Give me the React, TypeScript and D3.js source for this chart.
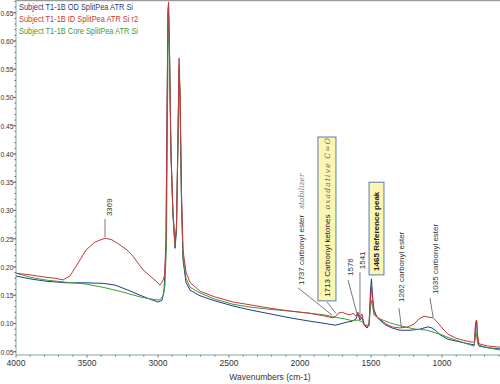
import React from 'react';
import * as d3 from 'd3';

// FTIR spectra, absorbance vs wavenumber (cm-1)
const odWavenumbers = [4000, 3901, 3796, 3648, 3514, 3387, 3303, 3211, 3127, 3056, 3000, 2972, 2958, 2944, 2937, 2930, 2926, 2919, 2909, 2895, 2880, 2870, 2859, 2852, 2845, 2835, 2824, 2803, 2775, 2704, 2599, 2472, 2352, 2212, 2071, 1930, 1824, 1754, 1719, 1676, 1634, 1606, 1592, 1578, 1564, 1549, 1528, 1514, 1504, 1497, 1490, 1479, 1458, 1430, 1395, 1352, 1296, 1226, 1155, 1099, 1070, 1042, 1014, 958, 902, 832, 772, 764, 757, 750, 740, 677, 592];
const odAbsorbance = [0.184, 0.179, 0.175, 0.172, 0.172, 0.171, 0.168, 0.159, 0.150, 0.143, 0.138, 0.141, 0.156, 0.230, 0.460, 0.646, 0.664, 0.575, 0.398, 0.292, 0.233, 0.265, 0.425, 0.549, 0.495, 0.318, 0.212, 0.173, 0.159, 0.149, 0.140, 0.131, 0.124, 0.117, 0.110, 0.104, 0.100, 0.097, 0.099, 0.102, 0.104, 0.108, 0.117, 0.106, 0.111, 0.097, 0.092, 0.097, 0.159, 0.179, 0.150, 0.124, 0.111, 0.104, 0.097, 0.092, 0.088, 0.088, 0.090, 0.094, 0.092, 0.087, 0.080, 0.072, 0.069, 0.065, 0.062, 0.097, 0.106, 0.074, 0.060, 0.057, 0.055];

const idWavenumbers = [4000, 3901, 3796, 3725, 3669, 3620, 3563, 3507, 3444, 3373, 3324, 3268, 3218, 3176, 3141, 3106, 3056, 3014, 2986, 2972, 2954, 2944, 2937, 2930, 2926, 2919, 2909, 2895, 2880, 2870, 2859, 2852, 2845, 2835, 2824, 2803, 2775, 2704, 2599, 2472, 2352, 2212, 2071, 1930, 1824, 1768, 1747, 1732, 1704, 1676, 1648, 1627, 1606, 1592, 1578, 1564, 1549, 1528, 1514, 1504, 1497, 1490, 1479, 1458, 1430, 1395, 1352, 1296, 1240, 1197, 1162, 1127, 1092, 1063, 1035, 1000, 958, 902, 846, 789, 772, 764, 757, 750, 740, 677, 592];
const idAbsorbance = [0.189, 0.186, 0.182, 0.180, 0.177, 0.184, 0.207, 0.230, 0.244, 0.251, 0.248, 0.239, 0.230, 0.219, 0.207, 0.195, 0.184, 0.175, 0.168, 0.173, 0.184, 0.248, 0.460, 0.655, 0.669, 0.584, 0.407, 0.300, 0.242, 0.273, 0.442, 0.570, 0.513, 0.336, 0.230, 0.191, 0.173, 0.157, 0.147, 0.138, 0.133, 0.127, 0.122, 0.118, 0.113, 0.110, 0.113, 0.118, 0.120, 0.117, 0.115, 0.118, 0.113, 0.120, 0.109, 0.117, 0.099, 0.094, 0.099, 0.141, 0.166, 0.141, 0.120, 0.111, 0.106, 0.099, 0.094, 0.092, 0.094, 0.099, 0.108, 0.113, 0.111, 0.110, 0.103, 0.092, 0.081, 0.074, 0.070, 0.067, 0.067, 0.102, 0.106, 0.080, 0.064, 0.060, 0.058];

const coreWavenumbers = [4000, 3901, 3796, 3648, 3514, 3387, 3268, 3127, 3021, 2986, 2965, 2951, 2940, 2933, 2927, 2919, 2909, 2895, 2880, 2870, 2859, 2852, 2845, 2835, 2824, 2803, 2775, 2704, 2599, 2472, 2352, 2212, 2071, 1930, 1824, 1754, 1683, 1634, 1592, 1564, 1542, 1514, 1500, 1490, 1479, 1437, 1366, 1296, 1190, 1106, 1014, 944, 860, 775, 761, 747, 677, 592];
const coreAbsorbance = [0.189, 0.182, 0.177, 0.173, 0.170, 0.164, 0.157, 0.147, 0.142, 0.142, 0.149, 0.168, 0.248, 0.478, 0.658, 0.575, 0.407, 0.297, 0.237, 0.269, 0.433, 0.557, 0.504, 0.327, 0.221, 0.180, 0.164, 0.154, 0.143, 0.134, 0.129, 0.125, 0.122, 0.118, 0.115, 0.111, 0.108, 0.105, 0.106, 0.103, 0.097, 0.097, 0.141, 0.132, 0.115, 0.108, 0.101, 0.096, 0.090, 0.088, 0.081, 0.074, 0.067, 0.060, 0.085, 0.062, 0.057, 0.053];

const legendLabels = ['Subject T1-1B OD SplitPea ATR Si', 'Subject T1-1B ID SplitPea ATR Si r2', 'Subject T1-1B Core SplitPea ATR Si'];
const seriesColors = ['#1f3d86', '#c6373c', '#3f9a3a'];

const xTicks = [4000, 3500, 3000, 2500, 2000, 1500, 1000];
const yTicks = [0.05, 0.10, 0.15, 0.20, 0.25, 0.30, 0.35, 0.40, 0.45, 0.50, 0.55, 0.60, 0.65];

// peak notes: text foot (wn, abs) and leader line (from -> to)
const notes = [
  { text: '3369', wn: 3345, abs: 0.290, from: [3373, 0.285], to: [3373, 0.253] },
  { text: '1737 carbonyl ester', hand: 'stabilizer', wn: 1993, abs: 0.168, from: [2014, 0.163], to: [1775, 0.115] },
  { text: '1576', wn: 1648, abs: 0.184, from: [1662, 0.177], to: [1599, 0.117] },
  { text: '1541', wn: 1564, abs: 0.196, from: [1578, 0.191], to: [1578, 0.111] },
  { text: '1262 carbonyl ester', wn: 1289, abs: 0.138, from: [1303, 0.127], to: [1286, 0.092] },
  { text: '1035 carbonyl ester', wn: 1050, abs: 0.152, from: [1085, 0.145], to: [1063, 0.111] },
];
const boxes = [
  { text: '1713 Carbonyl ketones', hand: 'oxadative C=O', wn0: 1874, wn1: 1747, abs0: 0.140, abs1: 0.430, bold: false, from: [1810, 0.138], to: [1747, 0.118] },
  { text: '1465 Reference peak', wn0: 1514, wn1: 1409, abs0: 0.186, abs1: 0.350, bold: true },
];

const FONT = '"Liberation Sans", Arial, sans-serif';

export default function App() {
  const width = 500;
  const height = 384;
  const left = 16, right = 500, top = 0, bottom = 355;

  const x = d3.scaleLinear().domain([4000, 592]).range([left, right]);
  const y = d3.scaleLinear().domain([0.0442, 0.6725]).range([bottom, top]);

  const line = d3.line<[number, number]>().x(d => x(d[0])).y(d => y(d[1]));
  const series = [
    d3.zip(odWavenumbers, odAbsorbance) as [number, number][],
    d3.zip(idWavenumbers, idAbsorbance) as [number, number][],
    d3.zip(coreWavenumbers, coreAbsorbance) as [number, number][],
  ];
  const drawOrder = [0, 2, 1];

  const xMinor = d3.range(4000, 591, -100);
  const yMinor = d3.range(0.05, 0.672, 0.01);

  const axisColor = '#7fa9a2';
  const textColor = '#333';

  return (
    <svg width={width} height={height} style={{ position: 'absolute', left: 0, top: 0, background: '#fff' }}>
      <defs>
        <clipPath id="plot">
          <rect x={left} y={top} width={right - left} height={bottom - top} />
        </clipPath>
      </defs>
      <rect x={0} y={0} width={width} height={height} fill="#fff" />
      <line x1={left} x2={right} y1={0.5} y2={0.5} stroke="#9a9a9a" strokeWidth={1.5} />

      {/* spectra */}
      <g clipPath="url(#plot)" fill="none" strokeWidth={1}>
        {drawOrder.map(i => (
          <path key={i} d={line(series[i]) || ''} stroke={seriesColors[i]} strokeLinejoin="round" />
        ))}
      </g>

      {/* axes */}
      <line x1={left} x2={left} y1={top} y2={bottom} stroke={axisColor} />
      <line x1={left} x2={right} y1={bottom} y2={bottom} stroke={axisColor} />
      {yMinor.map((v, i) => (
        <line key={'ym' + i} x1={left - 1.5} x2={left} y1={y(v)} y2={y(v)} stroke="#4f7c76" />
      ))}
      {yTicks.map(v => (
        <g key={'y' + v}>
          <line x1={left - 3} x2={left} y1={y(v)} y2={y(v)} stroke="#4f7c76" />
          <text x={13.5} y={y(v)} dy="0.35em" textAnchor="end" fontSize={8} fontFamily={FONT} fill={textColor}
            textLength={13} lengthAdjust="spacingAndGlyphs">
            {v.toFixed(2)}
          </text>
        </g>
      ))}
      {xMinor.map(w => (
        <line key={'xm' + w} x1={x(w)} x2={x(w)} y1={bottom} y2={bottom + (w % 500 === 0 ? 2.5 : 1.5)} stroke="#4f7c76" />
      ))}
      {xTicks.map(w => (
        <text key={'x' + w} x={x(w)} y={366} textAnchor="middle" fontSize={8.5} fontFamily={FONT} fill={textColor}>
          {w}
        </text>
      ))}
      <text x={270} y={380} textAnchor="middle" fontSize={8.5} fontFamily={FONT} fill={textColor}>
        Wavenumbers (cm-1)
      </text>

      {/* legend */}
      {legendLabels.map((l, i) => (
        <text key={l} x={19} y={10 + i * 12} fontSize={9} fontFamily={FONT} fill={seriesColors[i]}
          textLength={i === 0 ? 114 : 119} lengthAdjust="spacingAndGlyphs">
          {l}
        </text>
      ))}

      {/* peak notes */}
      {notes.map(n => (
        <g key={n.text}>
          <line x1={x(n.from[0])} y1={y(n.from[1])} x2={x(n.to[0])} y2={y(n.to[1])} stroke="#555" strokeWidth={0.8} />
          <text transform={`translate(${x(n.wn)},${y(n.abs)}) rotate(-90)`} dy="0.35em" fontSize={8} fontFamily={FONT} fill={textColor}>
            {n.text}
            {n.hand && (
              <tspan dx={6} fontFamily='"DejaVu Serif", serif' fontStyle="italic" fill="#777" fontSize={7.5}>{n.hand}</tspan>
            )}
          </text>
        </g>
      ))}

      {boxes.map(b => (
        <g key={b.text}>
          {b.from && (
            <line x1={x(b.from[0])} y1={y(b.from[1])} x2={x(b.to![0])} y2={y(b.to![1])} stroke="#555" strokeWidth={0.8} />
          )}
          <rect x={x(b.wn0)} y={y(b.abs1)} width={x(b.wn1) - x(b.wn0)} height={y(b.abs0) - y(b.abs1)}
            fill="#fbf6b0" stroke="#5b79b4" strokeWidth={1} />
          <text transform={`translate(${(x(b.wn0) + x(b.wn1)) / 2},${y(b.abs0) - 4}) rotate(-90)`} dy="0.35em"
            fontSize={8} fontWeight={b.bold ? 'bold' : 'normal'} fontFamily={FONT} fill="#222">
            {b.text}
            {b.hand && (
              <tspan dx={5} fontFamily='"DejaVu Serif", serif' fontStyle="italic" fill="#666" fontSize={7.5} letterSpacing={1.2}>{b.hand}</tspan>
            )}
          </text>
        </g>
      ))}
    </svg>
  );
}
